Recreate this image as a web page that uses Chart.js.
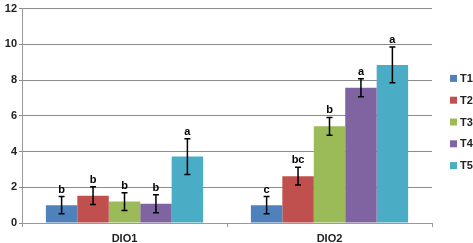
<!DOCTYPE html>
<html lang="en">
<head>
    <meta charset="UTF-8">
    <title>DIO1 / DIO2</title>
    <script src="https://cdn.jsdelivr.net/npm/chart.js"></script>
    <style>
        html, body { margin: 0; padding: 0; background: #fff; overflow: hidden; }
        .chart-container { width: 473px; height: 243px; }
    </style>
</head>
<body>
    <div class="chart-container">
        <canvas id="barChart" width="473" height="243"></canvas>
    </div>
    <script>
        // Data
        const categories = ['DIO1', 'DIO2'];
        const seriesNames = ['T1', 'T2', 'T3', 'T4', 'T5'];
        const t1 = [1.0, 1.0];
        const t2 = [1.53, 2.62];
        const t3 = [1.2, 5.41];
        const t4 = [1.08, 7.57];
        const t5 = [3.72, 8.85];
        const t1Err = [0.48, 0.48];
        const t2Err = [0.5, 0.5];
        const t3Err = [0.5, 0.5];
        const t4Err = [0.5, 0.5];
        const t5Err = [1.0, 1.0];
        const t1Letters = ['b', 'c'];
        const t2Letters = ['b', 'bc'];
        const t3Letters = ['b', 'b'];
        const t4Letters = ['b', 'a'];
        const t5Letters = ['a', 'a'];
        const yTicks = [0, 2, 4, 6, 8, 10, 12];

        const colors = ['#4f81bd', '#c0504d', '#9bbb59', '#8064a2', '#4bacc6'];
        const values = [t1, t2, t3, t4, t5];
        const errors = [t1Err, t2Err, t3Err, t4Err, t5Err];
        const letters = [t1Letters, t2Letters, t3Letters, t4Letters, t5Letters];

        const font = "'Liberation Sans', Arial, sans-serif";

        // error bars + significance letters
        const errorBarPlugin = {
            id: 'errorBars',
            afterDatasetsDraw(chart) {
                const ctx = chart.ctx;
                const y = chart.scales.y;
                ctx.save();
                chart.data.datasets.forEach((ds, i) => {
                    const meta = chart.getDatasetMeta(i);
                    meta.data.forEach((bar, j) => {
                        const v = ds.data[j];
                        const e = errors[i][j];
                        const top = y.getPixelForValue(v + e);
                        const bot = y.getPixelForValue(v - e);
                        const x = bar.x;
                        ctx.strokeStyle = '#000';
                        ctx.lineWidth = 1.5;
                        ctx.beginPath();
                        ctx.moveTo(x, top); ctx.lineTo(x, bot);
                        ctx.moveTo(x - 3, top); ctx.lineTo(x + 3, top);
                        ctx.moveTo(x - 3, bot); ctx.lineTo(x + 3, bot);
                        ctx.stroke();
                        ctx.fillStyle = '#000';
                        ctx.font = 'bold 11px ' + font;
                        ctx.textAlign = 'center';
                        ctx.textBaseline = 'alphabetic';
                        ctx.fillText(letters[i][j], x, top - 4);
                    });
                });
                ctx.restore();
            }
        };

        // legend on the right, one row per series
        const sideLegend = {
            id: 'sideLegend',
            afterDraw(chart) {
                const ctx = chart.ctx;
                const x0 = chart.chartArea.right + 18;
                const yMid = 122;
                const step = 21.8;
                ctx.save();
                ctx.font = 'bold 11px ' + font;
                ctx.textBaseline = 'middle';
                ctx.textAlign = 'left';
                seriesNames.forEach((name, i) => {
                    const yc = yMid + (i - 2) * step;
                    ctx.fillStyle = colors[i];
                    ctx.fillRect(x0, yc - 3.5, 7, 7);
                    ctx.fillStyle = '#222';
                    ctx.fillText(name, x0 + 10, yc + 0.5);
                });
                ctx.restore();
            }
        };

        const ctxBar = document.getElementById('barChart').getContext('2d');
        const barChart = new Chart(ctxBar, {
            type: 'bar',
            data: {
                labels: categories,
                datasets: seriesNames.map((name, i) => ({
                    label: name,
                    data: values[i],
                    backgroundColor: colors[i],
                    categoryPercentage: 0.767,
                    barPercentage: 1.0
                }))
            },
            options: {
                responsive: false,
                animation: false,
                devicePixelRatio: 1,
                layout: { padding: { top: 4, right: 41, left: 0, bottom: 0 } },
                plugins: {
                    legend: { display: false },
                    tooltip: { enabled: false }
                },
                scales: {
                    x: {
                        afterFit(axis) { axis.height = 20; },
                        grid: { offset: true, drawOnChartArea: false, tickLength: 4, color: '#999' },
                        border: { color: '#999' },
                        ticks: { color: '#222', font: { family: font, size: 11, weight: 'bold' }, padding: 5 }
                    },
                    y: {
                        min: 0,
                        max: 12,
                        afterFit(axis) { axis.width = 22; },
                        afterBuildTicks(axis) { axis.ticks = yTicks.map(v => ({ value: v })); },
                        grid: { color: '#8c8c8c', tickLength: 3 },
                        border: { color: '#999' },
                        ticks: { color: '#222', font: { family: font, size: 11, weight: 'bold' }, padding: 2 }
                    }
                }
            },
            plugins: [errorBarPlugin, sideLegend]
        });
    </script>
</body>
</html>
